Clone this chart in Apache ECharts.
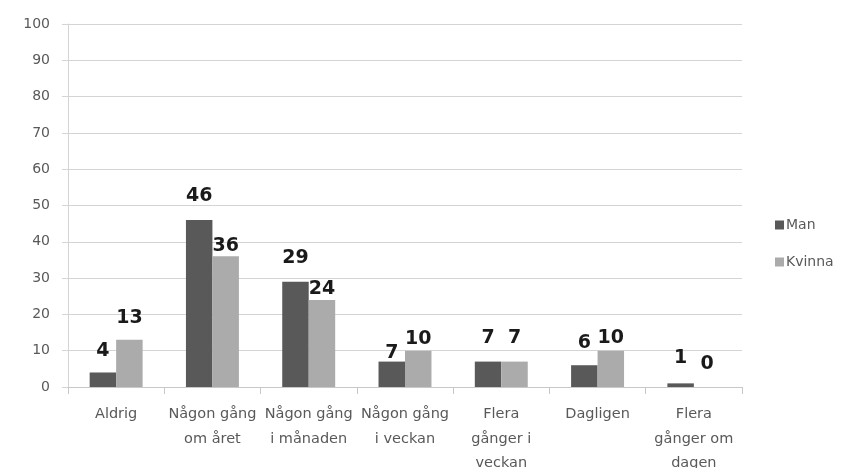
<!DOCTYPE html>
<html>
<head>
<meta charset="utf-8">
<script src="https://cdn.jsdelivr.net/npm/echarts@6/dist/echarts.min.js"></script>
<style>
  html, body { margin: 0; padding: 0; background: #ffffff; }
  #chart { width: 852px; height: 468px; }
</style>
</head>
<body>
<div id="chart"></div>
<script>
// ---- data ----
const categories = [
  'Aldrig',
  'Någon gång\nom året',
  'Någon gång\ni månaden',
  'Någon gång\ni veckan',
  'Flera\ngånger i\nveckan',
  'Dagligen',
  'Flera\ngånger om\ndagen'
];
const manValues = [4, 46, 29, 7, 7, 6, 1];
const kvinnaValues = [13, 36, 24, 10, 7, 10, 0];
const seriesNames = ['Man', 'Kvinna'];
const yMin = 0, yMax = 100, yStep = 10;

// ---- styling (label distances above bars, px) ----
const manLabelDist = [12, 14, 14, -1, 14, 13, 16];
const kvinnaLabelDist = [12, 1, 1, 2, 14, 3, 13];

const FONT = 'DejaVu Sans';
const labelStyle = {
  show: true, position: 'top', color: '#1a1a1a',
  fontFamily: FONT, fontWeight: 'bold', fontSize: 19, lineHeight: 19
};

function buildData(values, dists) {
  return values.map((v, i) => ({ value: v, label: Object.assign({}, labelStyle, { distance: dists[i] }) }));
}

const chart = echarts.init(document.getElementById('chart'), null, { renderer: 'canvas' });
chart.setOption({
  animation: false,
  backgroundColor: '#ffffff',
  grid: { left: 68, right: 110, top: 24, bottom: 81, containLabel: false, outerBoundsMode: 'none' },
  legend: {
    orient: 'vertical', left: 775, top: 218, padding: 0,
    itemWidth: 9, itemHeight: 9, itemGap: 23, icon: 'rect',
    textStyle: { fontFamily: FONT, fontSize: 14, color: '#595959', padding: [0, 0, 0, -3] },
    data: seriesNames
  },
  xAxis: {
    type: 'category', data: categories,
    axisLine: { lineStyle: { color: '#c8c8c8', width: 1 } },
    axisTick: { show: true, length: 7, alignWithLabel: false, lineStyle: { color: '#c8c8c8' } },
    axisLabel: {
      interval: 0, margin: 15, color: '#595959',
      fontFamily: FONT, fontSize: 14.5, lineHeight: 24.5
    }
  },
  yAxis: {
    type: 'value', min: yMin, max: yMax, interval: yStep,
    axisLine: { show: true, lineStyle: { color: '#d4d4d4', width: 1 } },
    axisTick: { show: true, length: 6, lineStyle: { color: '#d4d4d4' } },
    splitLine: { show: true, lineStyle: { color: '#d4d4d4', width: 1 } },
    axisLabel: { margin: 18, color: '#595959', fontFamily: FONT, fontSize: 14 }
  },
  series: [
    {
      name: seriesNames[0], type: 'bar', barGap: '0%', barCategoryGap: '45%',
      itemStyle: { color: '#595959' },
      data: buildData(manValues, manLabelDist)
    },
    {
      name: seriesNames[1], type: 'bar', barGap: '0%', barCategoryGap: '45%',
      itemStyle: { color: '#ababab' },
      data: buildData(kvinnaValues, kvinnaLabelDist)
    }
  ]
});
</script>
</body>
</html>
